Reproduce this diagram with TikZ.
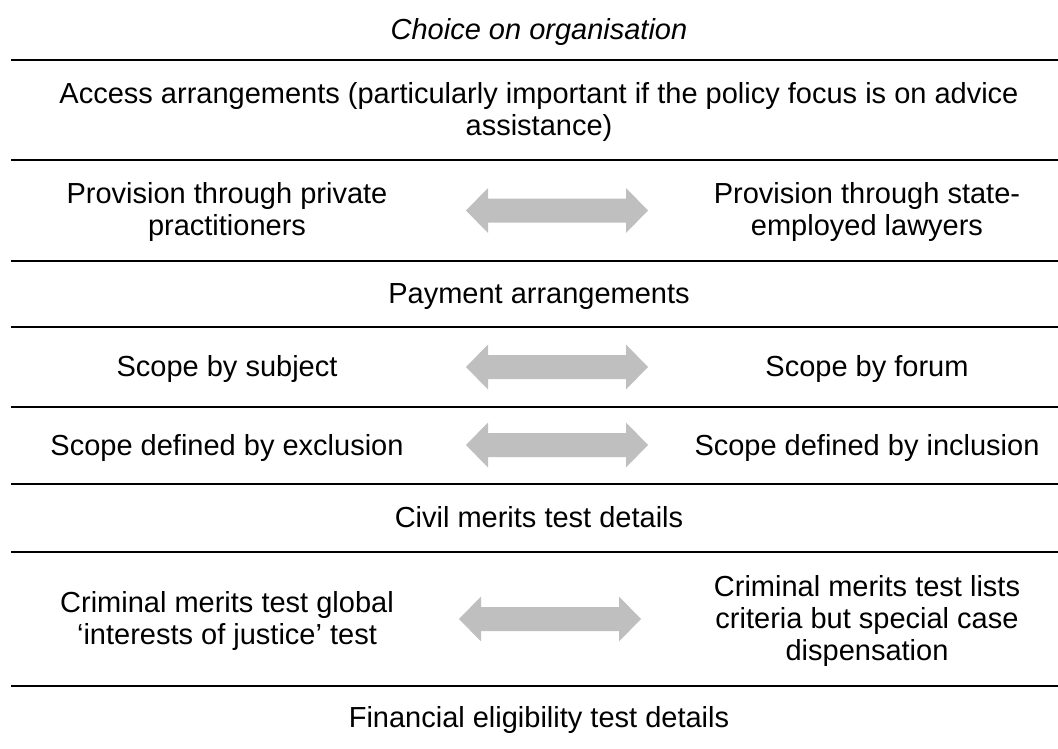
\documentclass[tikz,border=0pt]{standalone}
\usepackage{fontspec}
\setmainfont{Liberation Sans}
\definecolor{arrowfill}{HTML}{BFBFBF}
\begin{document}
\begin{tikzpicture}[x=1pt,y=-1pt,
  txt/.style={font=\fontsize{29}{32}\selectfont, align=center, inner sep=0pt},
  rulebar/.style={line width=2.3pt, black},
  dblarr/.pic={\fill[arrowfill] (-91,0) -- (-69,-22.5) -- (-69,-12) -- (69,-12) -- (69,-22.5) -- (91,0) -- (69,22.5) -- (69,12) -- (-69,12) -- (-69,22.5) -- cycle;}]
\useasboundingbox (0,0) rectangle (1058,749);

% horizontal rules
\foreach \yy in {60,160,261,327,407,484,552,686}
  \draw[rulebar] (11,\yy) -- (1058,\yy);

% full-width rows
\node[txt, anchor=base] (choice) at (539,39.5) {\itshape Choice on organisation};
\node[txt] (access) at (539,111.5) {Access arrangements (particularly important if the policy focus is on advice\\assistance)};
\node[txt, anchor=base] (payment) at (539,303.5) {Payment arrangements};
\node[txt, anchor=base] (civil) at (539,527.5) {Civil merits test details};
\node[txt, anchor=base] (financial) at (539,727) {Financial eligibility test details};

% paired rows
\node[txt] (provL) at (227,212.5) {Provision through private\\practitioners};
\node[txt] (provR) at (867,212.5) {Provision through state-\\employed lawyers};
\pic (arr1) at (557,210.5) {dblarr};

\node[txt, anchor=base] (subjL) at (227,376.5) {Scope by subject};
\node[txt, anchor=base] (subjR) at (867,376.5) {Scope by forum};
\pic (arr2) at (557,367) {dblarr};

\node[txt, anchor=base] (exclL) at (227,455) {Scope defined by exclusion};
\node[txt, anchor=base] (exclR) at (867,455) {Scope defined by inclusion};
\pic (arr3) at (557,445) {dblarr};

\node[txt] (crimL) at (227,621) {Criminal merits test global\\`interests of justice' test};
\node[txt] (crimR) at (867,621) {Criminal merits test lists\\criteria but special case\\dispensation};
\pic (arr4) at (550,619) {dblarr};
\end{tikzpicture}
\end{document}
